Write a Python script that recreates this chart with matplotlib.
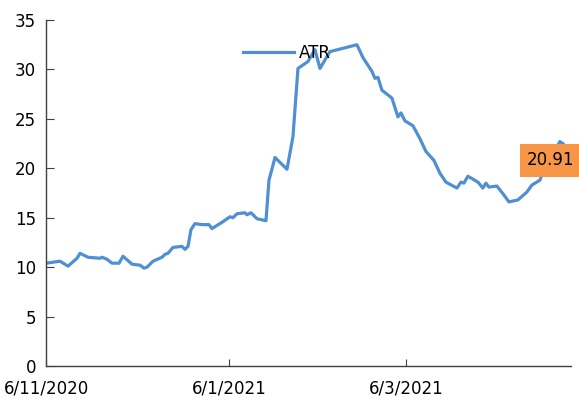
import matplotlib.pyplot as plt

# ATR series (x = trading-day offset from 6/11/2020)
days = [0, 14, 22, 31, 34, 42, 54, 56, 61, 66, 73, 77, 86, 94, 98, 101, 107, 116, 119, 122,
        127, 136, 139, 142, 145, 149, 156, 163, 166, 177, 184, 187, 191, 199, 201, 205, 211, 220,
        223, 227, 229, 234, 241, 247, 252, 262, 269, 274, 281, 284, 311, 317, 326, 329, 332, 336,
        346, 352, 355, 359, 367, 374, 380, 388, 394, 400, 411, 415, 418, 422, 432, 437, 440, 443,
        451, 458, 463, 472, 481, 486, 494, 499, 514, 517]
atr = [10.4, 10.6, 10.1, 10.9, 11.4, 11.0, 10.9, 11.0, 10.8, 10.4, 10.4, 11.1, 10.3, 10.2, 9.9,
       10.0, 10.6, 11.0, 11.3, 11.4, 12.0, 12.1, 11.8, 12.1, 13.8, 14.4, 14.3, 14.3, 13.9, 14.6,
       15.1, 15.0, 15.4, 15.5, 15.3, 15.5, 14.9, 14.7, 18.8, 20.3, 21.1, 20.6, 19.9, 23.2, 30.1,
       30.8, 32.0, 30.1, 31.3, 31.8, 32.5, 31.2, 29.8, 29.1, 29.2, 27.9, 27.1, 25.2, 25.6, 24.8,
       24.3, 23.0, 21.7, 20.8, 19.5, 18.6, 18.0, 18.6, 18.5, 19.2, 18.6, 18.0, 18.5, 18.1, 18.2,
       17.3, 16.6, 16.8, 17.6, 18.3, 18.8, 20.1, 22.7, 22.5]

tick_pos = [0, 183, 360]
tick_labels = ["6/11/2020", "6/1/2021", "6/3/2021"]
last_label = "20.91"

fig = plt.figure(figsize=(5.79, 4.05), dpi=100)
ax = fig.add_axes([0.0795, 0.0963, 0.9065, 0.8543])

ax.plot(days, atr, color="#4f8fd2", linewidth=2.3, label="ATR")

ax.set_xlim(0, 525)
ax.set_ylim(0, 35)
ax.set_yticks(range(0, 36, 5))
ax.set_xticks(tick_pos)
ax.set_xticklabels(tick_labels)

for s in ["top", "right"]:
    ax.spines[s].set_visible(False)
for s in ["left", "bottom"]:
    ax.spines[s].set_color("#404040")
    ax.spines[s].set_linewidth(1.0)

ax.tick_params(axis="y", direction="in", length=6, labelsize=12, pad=7, color="#404040")
ax.tick_params(axis="x", direction="in", length=5, labelsize=12, pad=10, color="#404040")

ax.legend(loc="center left", bbox_to_anchor=(0.362, 0.905), borderaxespad=0, frameon=False,
          fontsize=12, handlelength=3.1, handletextpad=0.3)

ax.text(505, 20.8, last_label, fontsize=12, ha="center", va="center", clip_on=False,
        bbox=dict(boxstyle="square,pad=0.45", facecolor="#f79646", edgecolor="none"))

fig.savefig("out.png", dpi=100)
